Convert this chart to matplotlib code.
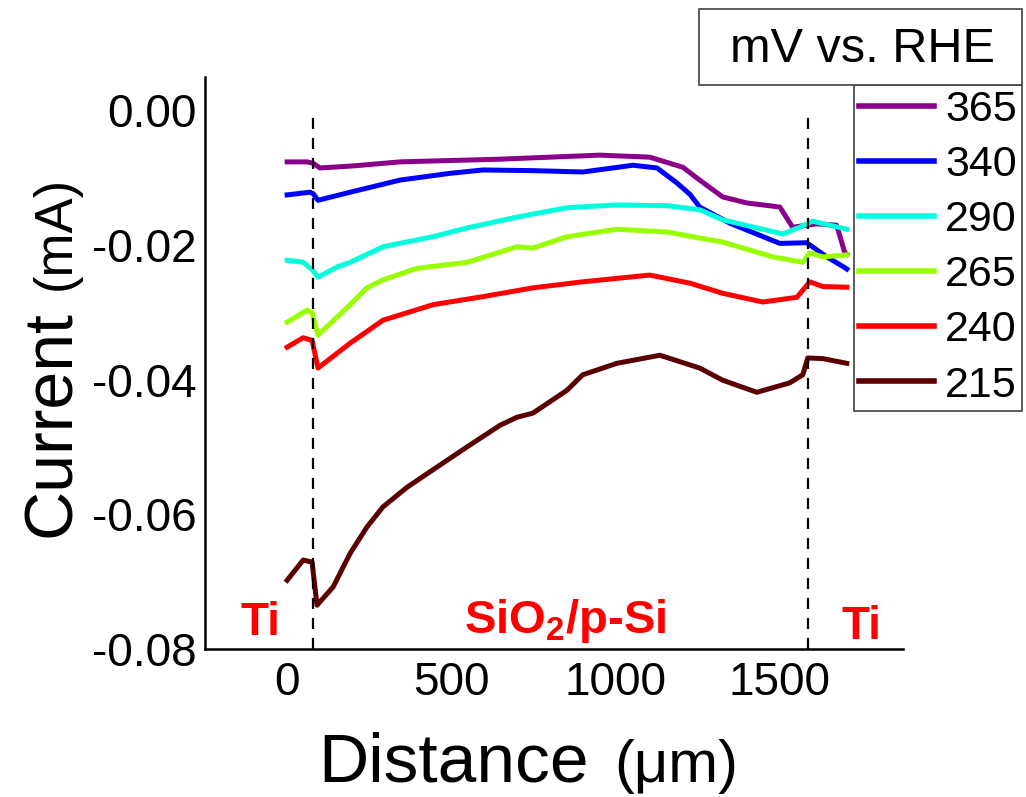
import numpy as np
import matplotlib
matplotlib.use("Agg")
import matplotlib.pyplot as plt
from matplotlib.patches import Rectangle

plt.rcParams['font.family'] = ['Liberation Sans', 'DejaVu Sans']
plt.rcParams['axes.unicode_minus'] = False
plt.rcParams['mathtext.fontset'] = 'custom'
plt.rcParams['mathtext.rm'] = 'Liberation Sans:bold'
plt.rcParams['mathtext.it'] = 'Liberation Sans:bold'
plt.rcParams['mathtext.bf'] = 'Liberation Sans:bold'
plt.rcParams['mathtext.default'] = 'rm'

# potentials (mV vs. RHE) and colours
labels = ["365", "340", "290", "265", "240", "215"]
colors = ["#8b008b", "#0000ff", "#00ffdd", "#99ff00", "#ff0000", "#5a0000"]

# line scans: distance (um), current (mA)
x_365 = [0, 61, 79, 100, 201, 344, 648, 952, 1104, 1205, 1256, 1326, 1400, 1500, 1539, 1612, 1673, 1698, 1704]
y_365 = [-0.0077, -0.0077, -0.0079, -0.0086, -0.0083, -0.0077, -0.0073, -0.0067, -0.0070, -0.0085,
         -0.0104, -0.0129, -0.0138, -0.0144, -0.0174, -0.0169, -0.0171, -0.0212, -0.0214]

x_340 = [0, 70, 79, 94, 192, 344, 496, 596, 748, 900, 1053, 1126, 1186, 1226, 1256, 1348, 1500, 1582, 1643, 1698, 1704]
y_340 = [-0.0126, -0.0122, -0.0124, -0.0134, -0.0122, -0.0104, -0.0094, -0.0089, -0.0090, -0.0092, -0.0082,
         -0.0086, -0.0108, -0.0125, -0.0144, -0.0168, -0.0198, -0.0197, -0.0218, -0.0234, -0.0236]

x_290 = [0, 49, 76, 94, 152, 192, 292, 444, 548, 700, 852, 1004, 1156, 1256, 1326, 1509, 1561, 1600, 1652, 1704]
y_290 = [-0.0223, -0.0226, -0.0237, -0.0248, -0.0233, -0.0226, -0.0203, -0.0188, -0.0175, -0.0159, -0.0145,
         -0.0141, -0.0142, -0.0148, -0.0163, -0.0184, -0.0174, -0.0165, -0.0171, -0.0177]

x_265 = [0, 61, 76, 94, 192, 243, 292, 395, 548, 700, 748, 852, 1004, 1156, 1256, 1326, 1479, 1570, 1591, 1631, 1704]
y_265 = [-0.0315, -0.0297, -0.0301, -0.0334, -0.0289, -0.0264, -0.0252, -0.0235, -0.0226, -0.0203, -0.0205,
         -0.0188, -0.0177, -0.0181, -0.0190, -0.0196, -0.0218, -0.0226, -0.0212, -0.0218, -0.0215]

x_240 = [0, 49, 76, 94, 192, 292, 444, 596, 748, 900, 1104, 1226, 1326, 1448, 1552, 1591, 1631, 1704]
y_240 = [-0.0352, -0.0338, -0.0342, -0.0383, -0.0346, -0.0312, -0.0289, -0.0277, -0.0264, -0.0255, -0.0245,
         -0.0257, -0.0272, -0.0285, -0.0278, -0.0255, -0.0262, -0.0263]

x_215 = [0, 49, 76, 91, 140, 192, 243, 292, 365, 444, 548, 648, 700, 748, 852, 900, 1004, 1135, 1256, 1326,
         1430, 1530, 1570, 1585, 1631, 1704]
y_215 = [-0.0698, -0.0668, -0.0671, -0.0735, -0.0708, -0.0658, -0.0619, -0.0589, -0.0560, -0.0534, -0.0500,
         -0.0468, -0.0456, -0.0450, -0.0416, -0.0393, -0.0376, -0.0364, -0.0383, -0.0401, -0.0419, -0.0405,
         -0.0393, -0.0368, -0.0369, -0.0376]

xs = [x_365, x_340, x_290, x_265, x_240, x_215]
ys = [y_365, y_340, y_290, y_265, y_240, y_215]

# Ti / SiO2 boundaries
boundaries = [79, 1585]

xticks = [0, 500, 1000, 1500]
yticks = [-0.08, -0.06, -0.04, -0.02, 0.0]
ytick_labels = ["-0.08", "-0.06", "-0.04", "-0.02", "0.00"]

fig = plt.figure(figsize=(10.26, 7.97), dpi=100)
ax = fig.add_axes([0.1998, 0.1857, 0.6803, 0.7177])

for x, y, c, lab in zip(xs, ys, colors, labels):
    ax.plot(x, y, color=c, lw=3.6, label=lab, solid_joinstyle='round')

ax.vlines(boundaries, -0.08, 0.0, colors='black', lw=1.6, linestyles=(0, (5, 4)))

ax.set_xlim(-250, 1875)
ax.set_ylim(-0.08, 0.0049)
ax.set_xticks(xticks)
ax.set_yticks(yticks)
ax.set_yticklabels(ytick_labels)
ax.tick_params(axis='x', length=0, pad=9, labelsize=33)
ax.tick_params(axis='y', length=0, pad=6, labelsize=33)
for s in ['top', 'right']:
    ax.spines[s].set_visible(False)
for s in ['left', 'bottom']:
    ax.spines[s].set_linewidth(1.8)

# region labels
ax.text(-143, -0.0779, "Ti", color='red', fontsize=33, fontweight='bold', ha='left', va='baseline')
ax.text(1688, -0.0785, "Ti", color='red', fontsize=33, fontweight='bold', ha='left', va='baseline')
ax.text(846, -0.0776, "SiO$_2$/p-Si", color='red', fontsize=34, fontweight='bold', ha='center', va='baseline')

# axis labels (unit in smaller type)
fig.text(318 / 1026, 1 - 782 / 797, "Distance", fontsize=50, ha='left', va='baseline')
fig.text(614 / 1026, 1 - 782 / 797, "(\u03bcm)", fontsize=43, ha='left', va='baseline')
fig.text(70 / 1026, 1 - 537 / 797, "Current", fontsize=49, rotation=90, rotation_mode='anchor',
         ha='left', va='baseline')
fig.text(70 / 1026, 1 - 290 / 797, "(mA)", fontsize=38, rotation=90, rotation_mode='anchor',
         ha='left', va='baseline')

# legend with a separate title box
leg = ax.legend(loc='upper right', bbox_to_anchor=(1022 / 1026, 1 - 85 / 797), bbox_transform=fig.transFigure,
                fontsize=31, handlelength=1.75, handletextpad=0.25, labelspacing=0.35, borderpad=0.12,
                borderaxespad=0, fancybox=False, framealpha=1, edgecolor='#404040')
leg.get_frame().set_linewidth(1.2)
for h in leg.legend_handles:
    h.set_linewidth(4)

fig.patches.append(Rectangle((699 / 1026, 1 - 85 / 797), 323 / 1026, 76 / 797, transform=fig.transFigure,
                             facecolor='white', edgecolor='#404040', lw=1.2))
fig.text(862 / 1026, 1 - 62 / 797, "mV vs. RHE", fontsize=35, ha='center', va='baseline')

fig.savefig("out.png", dpi=100)
